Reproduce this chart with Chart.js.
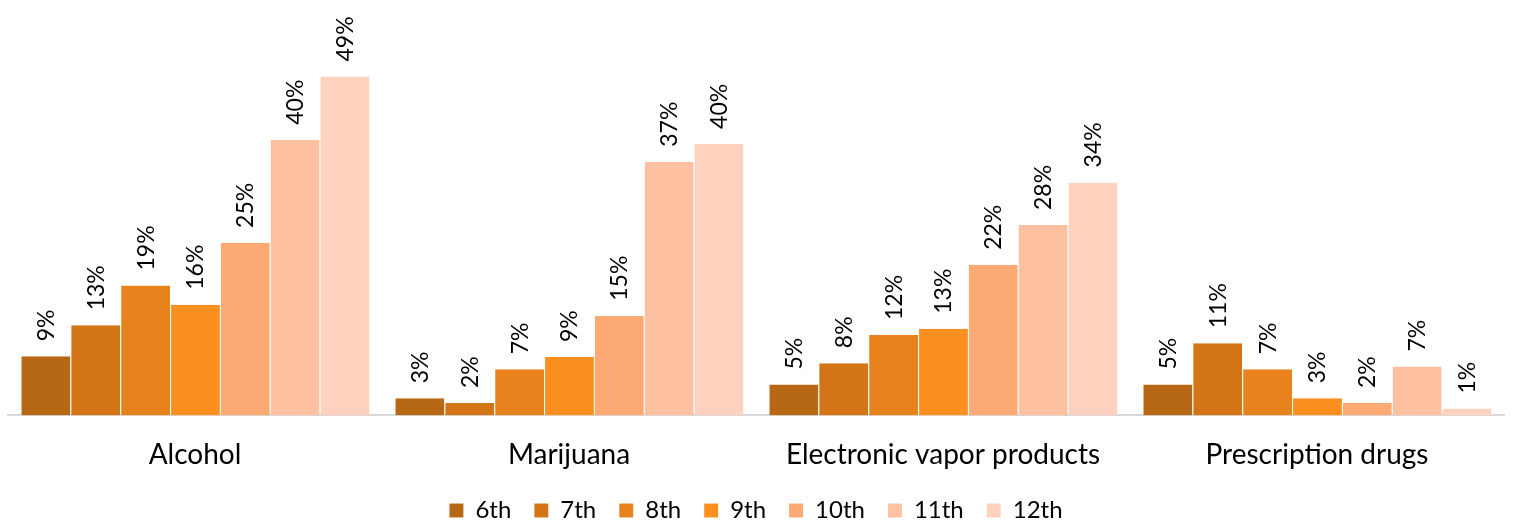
<!DOCTYPE html>
<html>
<head>
<meta charset="utf-8">
<script src="https://cdn.jsdelivr.net/npm/chart.js@4/dist/chart.umd.min.js"></script>
<style>
html,body{margin:0;padding:0;background:#fff;}
#wrap{width:1513px;height:523px;position:relative;}
</style>
</head>
<body>
<div id="wrap"><canvas id="c" width="1513" height="523"></canvas></div>
<script>
const categories = ["Alcohol", "Marijuana", "Electronic vapor products", "Prescription drugs"];
const grades = ["6th", "7th", "8th", "9th", "10th", "11th", "12th"];
const grade6  = [8.6, 2.5, 4.5, 4.5];
const grade7  = [13.1, 1.8, 7.6, 10.5];
const grade8  = [18.9, 6.7, 11.7, 6.7];
const grade9  = [16.1, 8.5, 12.6, 2.5];
const grade10 = [25.1, 14.5, 21.9, 1.8];
const grade11 = [40.1, 36.9, 27.7, 7.1];
const grade12 = [49.3, 39.5, 33.9, 1.0];
const seriesValues = [grade6, grade7, grade8, grade9, grade10, grade11, grade12];
const colors = ["#B76815", "#D37517", "#E8821C", "#FB8F1F", "#FDA974", "#FDC0A0", "#FED2BF"];

const FONT = "Lato, 'Open Sans', sans-serif";

const labelPlugin = {
  id: 'rotLabels',
  afterDatasetsDraw(chart) {
    const ctx = chart.ctx;
    ctx.save();
    ctx.fillStyle = '#000';
    ctx.font = "23px " + FONT;
    ctx.textAlign = 'left';
    ctx.textBaseline = 'middle';
    chart.data.datasets.forEach((ds, di) => {
      const meta = chart.getDatasetMeta(di);
      meta.data.forEach((bar, i) => {
        const v = ds.data[i];
        ctx.save();
        ctx.translate(bar.x, bar.y - 15);
        ctx.rotate(-Math.PI / 2);
        ctx.fillText(Math.round(v) + '%', 0, 1);
        ctx.restore();
      });
    });
    ctx.restore();
  }
};

new Chart(document.getElementById('c'), {
  type: 'bar',
  data: {
    labels: categories,
    datasets: grades.map((g, i) => ({
      label: g,
      data: seriesValues[i],
      backgroundColor: colors[i],
      borderColor: 'rgba(255,255,255,0.35)',
      borderWidth: {left: 1, right: 0, top: 0, bottom: 0},
      categoryPercentage: 0.933,
      barPercentage: 1.0
    }))
  },
  options: {
    responsive: false,
    animation: false,
    devicePixelRatio: 1,
    layout: {padding: {left: 8, right: 9, top: 3, bottom: -9.5}},
    scales: {
      x: {
        grid: {display: false, drawTicks: false},
        border: {display: true, color: '#D9D9D9', width: 2},
        ticks: {color: '#000', font: {family: FONT, size: 28}, padding: 23},
        afterFit(scale) { scale.height -= 19.5; }
      },
      y: {
        display: false,
        min: 0,
        max: 60
      }
    },
    plugins: {
      legend: {
        position: 'bottom',
        labels: {
          color: '#000',
          font: {family: FONT, size: 24},
          boxWidth: 14,
          boxHeight: 14,
          padding: 23
        }
      },
      tooltip: {enabled: false}
    }
  },
  plugins: [labelPlugin]
});
</script>
</body>
</html>
